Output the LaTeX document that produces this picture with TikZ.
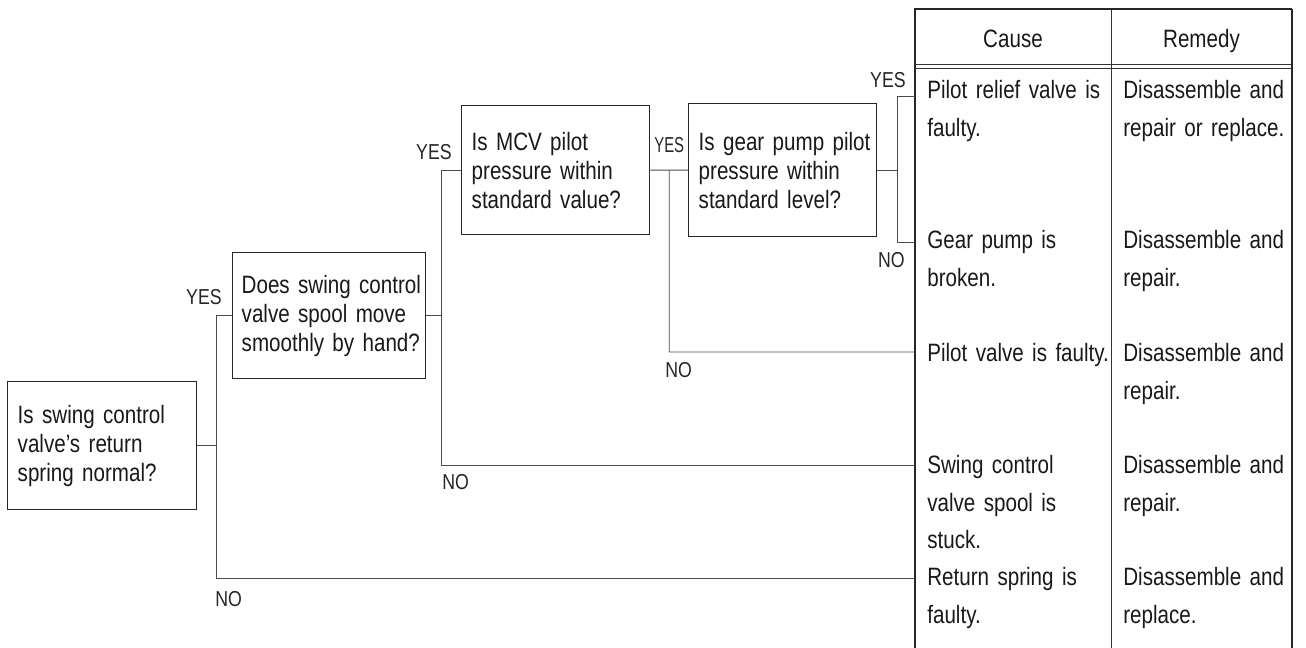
\documentclass[tikz,border=0pt]{standalone}
\usepackage{fontspec}
\setmainfont{Liberation Sans}[FakeStretch=0.82]
\usetikzlibrary{positioning,calc}
\hyphenpenalty=10000
\exhyphenpenalty=10000
\tikzset{
    %Define style for question boxes
    qbox/.style={
           rectangle,
           draw=black!85, line width=0.8pt,
           anchor=north west,
           inner xsep=0.2cm,
           align=left,
           text=black!90,
           font=\fontsize{14.3}{16.5}\selectfont},
    %Define style for table text
    cell/.style={
           anchor=base west,
           inner sep=0pt,
           text width=3.6cm,
           align=left,
           text=black!90,
           font=\fontsize{14.3}{21.3}\selectfont},
    head/.style={
           anchor=base,
           inner sep=0pt,
           text=black!90,
           font=\fontsize{14.3}{16.5}\selectfont},
    yesno/.style={
           inner sep=0pt,
           text=black!85,
           font=\fontsize{12.3}{14}\selectfont},
    % Define line style
    wire/.style={
           draw=black!70,
           line width=0.5pt}
}

\begin{document}
\begin{tikzpicture}[x=0.02cm, y=-0.02cm]
\useasboundingbox (0,0) rectangle (1306,648);
 %question boxes
\node[qbox, text width=3.38cm, minimum height=2.56cm] (spring) at (7,381) {Is~swing~control\\valve's~return\\spring~normal?};
\node[qbox, text width=3.5cm, minimum height=2.52cm, inner xsep=0.18cm] (spool) at (232,252) {Does~swing~control\\valve~spool~move\\smoothly~by~hand?};
\node[qbox, text width=3.36cm, minimum height=2.58cm] (mcv) at (461,105) {Is~MCV~pilot\\pressure~within\\standard~value?};
\node[qbox, text width=3.36cm, minimum height=2.66cm] (gear) at (688,103) {Is~gear~pump~pilot\\pressure~within\\standard~level?};

 %table
\draw[black!85, line width=0.8pt] (915,648) -- (915,9) -- (1292,9);
\draw[black!85, line width=1.3pt] (1292,9) -- (1292,648);
\draw[black!80, line width=0.5pt] (1111,9) -- (1111,648);
\draw[black!80, line width=0.5pt] (915,64) -- (1292,64) (915,68) -- (1292,68);
\node[head] (cause) at (1013,48) {Cause};
\node[head] (remedy) at (1201.5,48) {Remedy};

 %causes and remedies
\node[cell] (c1) at (927,99) {Pilot~relief~valve~is\\faulty.};
\node[cell] (c2) at (927,249) {Gear~pump~is\\broken.};
\node[cell] (c3) at (927,362) {Pilot~valve~is~faulty.};
\node[cell] (c4) at (927,474) {Swing~control\\valve~spool~is\\stuck.};
\node[cell] (c5) at (927,586) {Return~spring~is\\faulty.};
\node[cell] (m1) at (1123,99) {Disassemble~and\\repair~or~replace.};
\node[cell] (m2) at (1123,249) {Disassemble~and\\repair.};
\node[cell] (m3) at (1123,362) {Disassemble~and\\repair.};
\node[cell] (m4) at (1123,474) {Disassemble~and\\repair.};
\node[cell] (m5) at (1123,586) {Disassemble~and\\replace.};

 %entry points on the table edge
\coordinate (e1) at (915,96);
\coordinate (e2) at (915,242);
\coordinate (e3) at (915,352);
\coordinate (e4) at (915,465);
\coordinate (e5) at (915,578);

 %junctions
\coordinate (j1) at ($(spring.east)+(19,0)$);
\coordinate (j2) at ($(spool.east)+(15,0)$);
\coordinate (j3) at ($(mcv.east)!0.5!(gear.west)$);
\coordinate (j4) at ($(gear.east)+(20,0)$);

\draw[wire] (spring.east) -- (j1) (spool.west) -| (j1) |- (e5);
\draw[wire] (spool.east) -- (j2) (mcv.west) -| (j2) |- (e4);
\draw[wire] (mcv.east) -- (gear.west) (j3) |- (e3);
\draw[wire] (gear.east) -- (j4) (e1) -| (j4) |- (e2);

 %branch labels
\node[yesno, anchor=base east] (yes1) at (222,305) {YES};
\node[yesno, anchor=base west] (no1) at (215,606) {NO};
\node[yesno, anchor=base east] (yes2) at (452,160) {YES};
\node[yesno, anchor=base west] (no2) at (442,490) {NO};
\node[yesno, anchor=base west] (yes3) at (654,153) {\scalebox{0.84}[1]{YES}};
\node[yesno, anchor=base west] (no3) at (665,378) {NO};
\node[yesno, anchor=base east] (yes4) at (906,88) {YES};
\node[yesno, anchor=base east] (no4) at (905,268) {NO};

\end{tikzpicture}
\end{document}
